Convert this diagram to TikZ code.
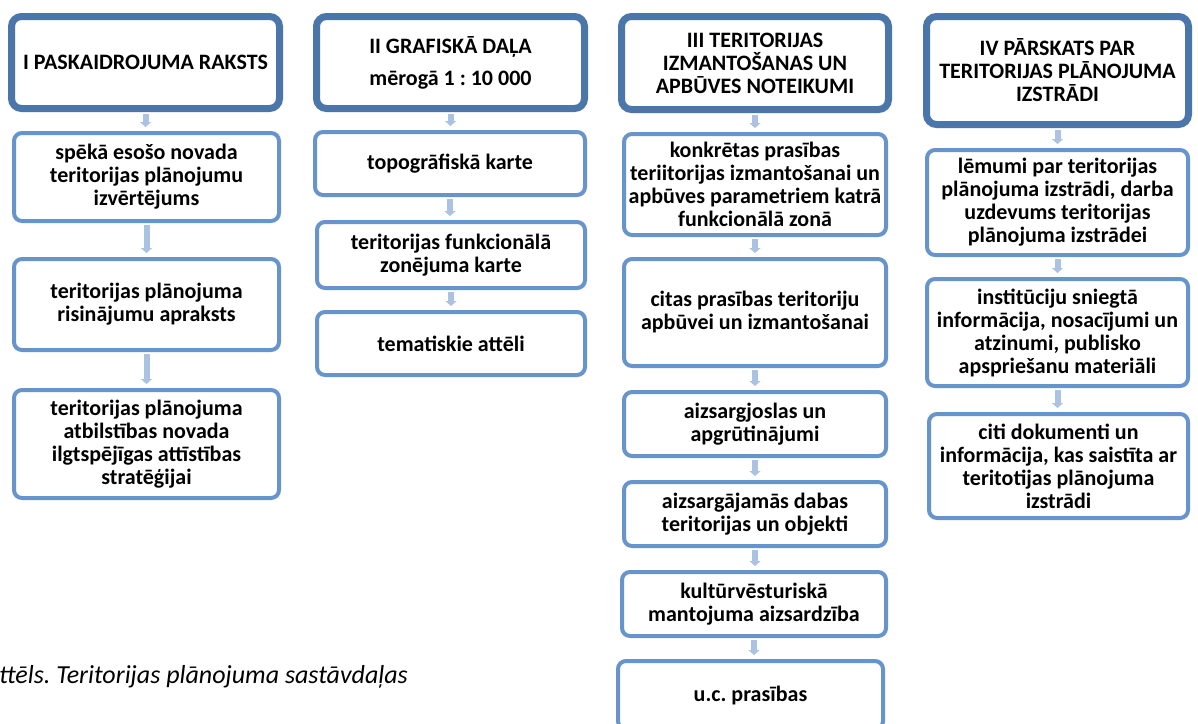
\documentclass[tikz,border=0pt]{standalone}
\usepackage{fontspec}
\setmainfont{Carlito}
\usepackage{tikz}
\usetikzlibrary{arrows.meta,shadows}
\definecolor{headblue}{RGB}{74,118,170}
\definecolor{partblue}{RGB}{104,148,204}
\definecolor{linkblue}{RGB}{172,194,226}
\frenchspacing

\begin{document}
\begin{tikzpicture}[x=1pt,y=-1pt,
            head/.style={draw=headblue, line width=7pt, rounded corners=10pt, fill=white, align=center, inner sep=1pt,
                font=\bfseries\fontsize{22}{23}\selectfont, drop shadow={opacity=0.25, shadow xshift=0pt, shadow yshift=-3pt}},
            part/.style={draw=partblue, line width=4pt, rounded corners=8pt, fill=white, align=center, inner sep=1pt,
                font=\bfseries\fontsize{22}{23}\selectfont},
            link/.style={linkblue, line width=6pt, -{Triangle[width=11pt,length=5pt]}, shorten <=2pt, shorten >=4pt},
            caption/.style={font=\itshape\fontsize{26}{28}\selectfont, inner sep=0pt}]
            \clip (0,0) rectangle (1198,723);
            \fill[white] (0,0) rectangle (1198,723);

            \node[head, minimum width=268pt, minimum height=92pt] (h1) at (145.5,62.5) {I PASKAIDROJUMA RAKSTS};
            \node[part, minimum width=265pt, minimum height=88pt] (c1a) at (146.5,177) {spēkā esošo novada\\teritorijas plānojumu\\izvērtējums};
            \node[part, minimum width=265pt, minimum height=91pt] (c1b) at (146.5,304.5) {teritorijas plānojuma\\risinājumu apraksts};
            \node[part, minimum width=265pt, minimum height=108pt] (c1c) at (146.5,444) {teritorijas plānojuma\\atbilstības novada\\ilgtspējīgas attīstības\\stratēģijai};

            \node[head, minimum width=268pt, minimum height=92pt] (h2) at (450.5,62.5) {II GRAFISKĀ DAĻA\\[9pt]mērogā 1 : 10 000};
            \node[part, minimum width=270pt, minimum height=63pt] (c2a) at (450,163.5) {topogrāfiskā karte};
            \node[part, minimum width=268pt, minimum height=66pt] (c2b) at (451,255) {teritorijas funkcionālā\\zonējuma karte};
            \node[part, minimum width=268pt, minimum height=63pt] (c2c) at (451,343.5) {tematiskie attēli};

            \node[head, minimum width=267pt, minimum height=93pt] (h3) at (755,63) {III TERITORIJAS\\IZMANTOŠANAS UN\\APBŪVES NOTEIKUMI};
            \node[part, minimum width=262pt, minimum height=101pt] (c3a) at (755,184.5) {konkrētas prasības\\teriitorijas izmantošanai un\\apbūves parametriem katrā\\funkcionālā zonā};
            \node[part, minimum width=262pt, minimum height=107pt] (c3b) at (755,312.5) {citas prasības teritoriju\\apbūvei un izmantošanai};
            \node[part, minimum width=262pt, minimum height=64pt] (c3c) at (755,424) {aizsargjoslas un\\apgrūtinājumi};
            \node[part, minimum width=262pt, minimum height=64pt] (c3d) at (755,514) {aizsargājamās dabas\\teritorijas un objekti};
            \node[part, minimum width=264pt, minimum height=64pt] (c3e) at (754,604) {kultūrvēsturiskā\\mantojuma aizsardzība};
            \node[part, minimum width=265pt, minimum height=68pt] (c3f) at (750.5,695) {u.c. prasības};

            \node[head, minimum width=262pt, minimum height=108pt] (h4) at (1057.5,70.5) {IV PĀRSKATS PAR\\TERITORIJAS PLĀNOJUMA\\IZSTRĀDI};
            \node[part, minimum width=261pt, minimum height=105pt] (c4a) at (1057.5,202.5) {lēmumi par teritorijas\\plānojuma izstrādi, darba\\uzdevums teritorijas\\plānojuma izstrādei};
            \node[part, minimum width=261pt, minimum height=107pt] (c4b) at (1057.5,332.5) {institūciju sniegtā\\informācija, nosacījumi un\\atzinumi, publisko\\apspriešanu materiāli};
            \node[part, minimum width=259pt, minimum height=104pt] (c4c) at (1058.5,466) {citi dokumenti un\\informācija, kas saistīta ar\\teritotijas plānojuma\\izstrādi};

            \foreach \a/\b in {h1/c1a,c1a/c1b,c1b/c1c,h2/c2a,c2a/c2b,c2b/c2c,h3/c3a,c3a/c3b,c3b/c3c,c3c/c3d,c3d/c3e,c3e/c3f,h4/c4a,c4a/c4b,c4b/c4c}
                \draw[link] (\a.south) -- (\a.south |- \b.north);

            \node[caption, anchor=base west] (cap) at (-1,683) {ttēls. Teritorijas plānojuma sastāvdaļas};
\end{tikzpicture}
\end{document}
